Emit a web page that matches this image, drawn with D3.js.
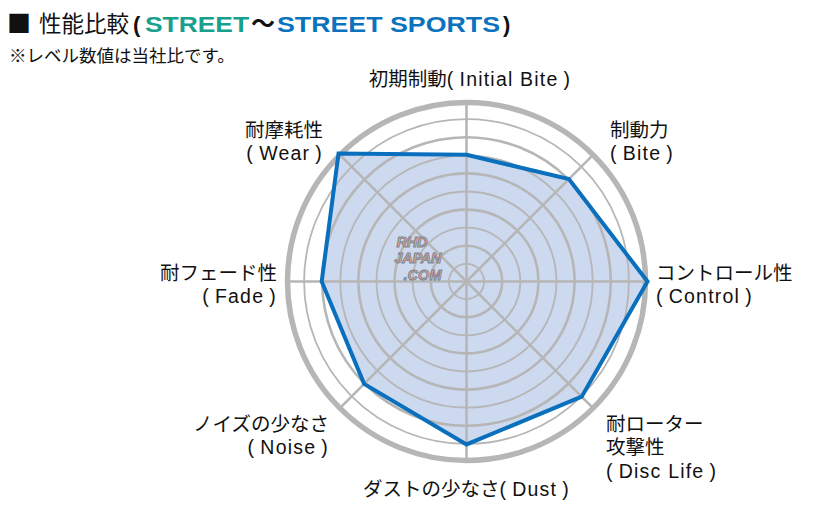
<!DOCTYPE html>
<html lang="ja">
<head>
<meta charset="utf-8">
<script src="https://cdn.jsdelivr.net/npm/d3@7"></script>
<style>
  html, body { margin: 0; padding: 0; background: #fff; }
  svg { display: block; }
  text { font-family: "Liberation Sans", "Noto Sans CJK JP", sans-serif; }
</style>
</head>
<body>
<svg id="chart" width="838" height="516" lang="ja"></svg>
<script>
// ---- data ----
// each label line: array of [text, isLatin]
const axesLabels = [
  [[["初期制動", false], ["(\u2009Initial Bite\u2009)", true]]],
  [[["制動力", false]], [["(\u2009Bite\u2009)", true]]],
  [[["コントロール性", false]], [["(\u2009Control\u2009)", true]]],
  [[["耐ローター", false]], [["攻撃性", false]], [["(\u2009Disc Life\u2009)", true]]],
  [[["ダストの少なさ", false], ["(\u2009Dust\u2009)", true]]],
  [[["ノイズの少なさ", false]], [["(\u2009Noise\u2009)", true]]],
  [[["耐フェード性", false]], [["(\u2009Fade\u2009)", true]]],
  [[["耐摩耗性", false]], [["(\u2009Wear\u2009)", true]]]
];
const values = [7, 8, 10, 9, 9, 8, 8, 10];
const levels = [1, 2, 3, 4, 5, 6, 7, 8, 9, 10];
const maxLevel = 10;

// ---- layout ----
const svg = d3.select("#chart");
const cx = 466.5, cy = 281.5;
const R = 181;
const rScale = d3.scaleLinear().domain([0, maxLevel]).range([0, R]);
const angle = d3.scaleLinear().domain([0, axesLabels.length]).range([0, 2 * Math.PI]);
const gray = "#b6b6b6";

// Title
const title = svg.append("text").attr("y", 32);
const cjk = "Noto Sans CJK JP";
title.append("tspan").attr("x", 7).attr("font-family", cjk).attr("font-size", 24).attr("fill", "#111").text("■");
title.append("tspan").attr("x", 39).attr("font-family", cjk).attr("font-size", 22.5).attr("fill", "#111").text("性能比較");
title.append("tspan").attr("x", 133).attr("font-weight", "bold").attr("font-size", 22).attr("fill", "#111").text("(");
title.append("tspan").attr("x", 145).attr("font-weight", "bold").attr("font-size", 22)
  .attr("textLength", 104).attr("lengthAdjust", "spacingAndGlyphs").attr("fill", "#17a08c").text("STREET");
title.append("tspan").attr("x", 251).attr("font-family", cjk).attr("font-weight", "bold").attr("font-size", 24).attr("fill", "#111").text("〜");
title.append("tspan").attr("x", 277).attr("font-weight", "bold").attr("font-size", 22)
  .attr("textLength", 223).attr("lengthAdjust", "spacingAndGlyphs").attr("fill", "#0b72bd").text("STREET SPORTS");
title.append("tspan").attr("x", 503).attr("font-weight", "bold").attr("font-size", 22).attr("fill", "#111").text(")");

svg.append("text").attr("x", 9).attr("y", 62).attr("font-size", 17.5)
  .attr("font-family", cjk).attr("fill", "#111").text("※レベル数値は当社比です。");

const g = svg.append("g").attr("transform", `translate(${cx},${cy})`);

// fill
const radial = d3.lineRadial()
  .angle((d, i) => angle(i))
  .radius(d => rScale(d))
  .curve(d3.curveLinearClosed);

g.append("path").datum(values).attr("d", radial)
  .attr("fill", "#ccd9ee").attr("stroke", "none");

// rings
g.selectAll("circle.ring").data(levels).join("circle")
  .attr("class", "ring")
  .attr("r", d => d === maxLevel ? rScale(d) - 2 : rScale(d) - 0.5)
  .attr("fill", "none")
  .attr("stroke", gray)
  .attr("stroke-width", d => d === maxLevel ? 5.5 : (d % 2 === 0 ? 2.6 : 1.8));

// spokes
g.selectAll("line.spoke").data(axesLabels).join("line")
  .attr("class", "spoke")
  .attr("x1", 0).attr("y1", 0)
  .attr("x2", (d, i) => Math.sin(angle(i)) * (R - 2))
  .attr("y2", (d, i) => -Math.cos(angle(i)) * (R - 2))
  .attr("stroke", gray).attr("stroke-width", 2.6);

// watermark
const wm = g.append("g").attr("font-style", "italic").attr("font-weight", "bold")
  .attr("fill", "#eaa679").attr("stroke", "#75849c").attr("stroke-width", 0.9)
  .attr("font-size", 14.5);
wm.append("text").attr("x", -70).attr("y", -35).attr("textLength", 31).text("RHD");
wm.append("text").attr("x", -72).attr("y", -18.5).attr("textLength", 47).text("JAPAN");
wm.append("text").attr("x", -63).attr("y", -2).attr("textLength", 38).text(".COM");

// polygon outline
g.append("path").datum(values).attr("d", radial)
  .attr("fill", "none").attr("stroke", "#0a70bd").attr("stroke-width", 4)
  .attr("stroke-linejoin", "miter");

// labels
const labelPos = [
  {x: 3.5, y: -195.5, anchor: "middle"},
  {x: 143.5, y: -145, anchor: "start"},
  {x: 189.5, y: -2, anchor: "start"},
  {x: 139.5, y: 149, anchor: "start"},
  {x: 0, y: 214.5, anchor: "middle"},
  {x: -137.5, y: 149, anchor: "end"},
  {x: -189.5, y: -2, anchor: "end"},
  {x: -143.5, y: -145, anchor: "end"}
];
const lineH = 23.5;
axesLabels.forEach((lines, i) => {
  const p = labelPos[i];
  const t = g.append("text")
    .attr("font-size", 19.5)
    .attr("fill", "#111")
    .attr("text-anchor", p.anchor);
  lines.forEach((segs, j) => {
    const line = t.append("tspan").attr("x", p.x).attr("y", p.y + j * lineH);
    segs.forEach(([s, latin]) => {
      const sp = line.append("tspan").text(s);
      if (latin) sp.attr("letter-spacing", 1.2);
    });
  });
});
</script>
</body>
</html>
